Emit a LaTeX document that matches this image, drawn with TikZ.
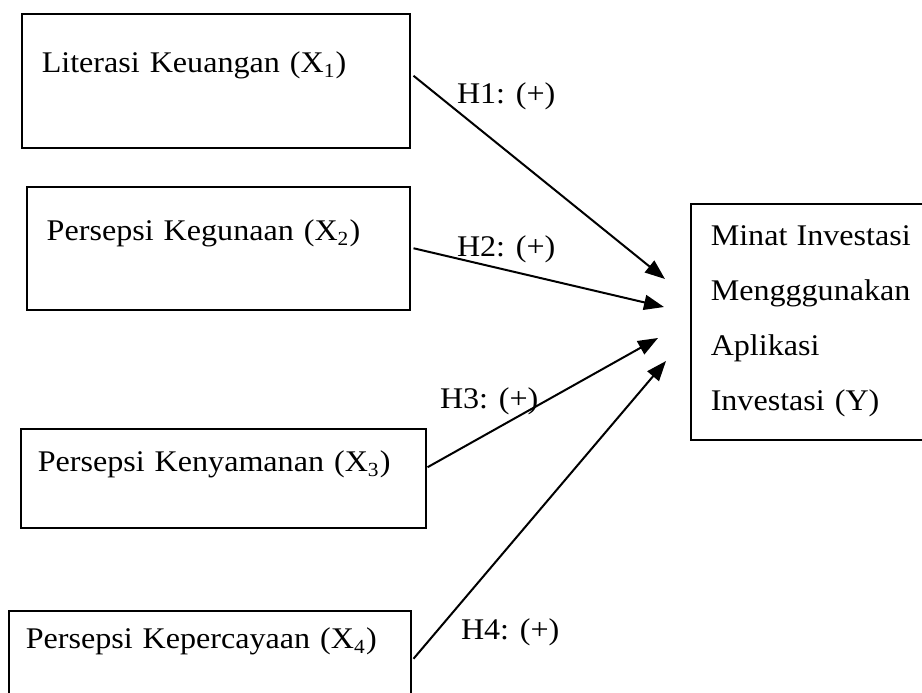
\documentclass[tikz,border=0pt,12pt]{standalone}
\usepackage{fontspec}
\setmainfont{Liberation Serif}[FakeStretch=1.07]
\usetikzlibrary{arrows.meta}

\begin{document}
\begin{tikzpicture}[x=0.4pt,y=-0.4pt,->,>={Triangle[length=8pt,width=6pt]},
                    line width=0.8pt,
                    var/.style={draw,-,line width=0.6pt,anchor=north west,
                                inner ysep=0pt,inner xsep=8pt,align=left},
                    hyp/.style={anchor=base west,inner sep=0pt}]
  \useasboundingbox (0,0) rectangle (922,693);

  \node[var,text width=139.2pt,text height=23.6pt,text depth=30pt]
        (lit) at (21,13)   {Literasi Keuangan (X\textsubscript{1})};
  \node[var,text width=137.2pt,text height=21.6pt,text depth=27.6pt]
        (guna) at (26,186) {Persepsi Kegunaan (X\textsubscript{2})};
  \node[var,inner xsep=6.8pt,text width=148.4pt,text height=17.2pt,text depth=22.4pt]
        (nyaman) at (20,428) {Persepsi Kenyamanan (X\textsubscript{3})};
  \node[var,inner xsep=6.8pt,text width=147.2pt,text height=15.2pt,text depth=20pt]
        (percaya) at (8,610) {Persepsi Kepercayaan (X\textsubscript{4})};

  \node[var,text width=80pt,minimum height=94.4pt,font=\fontsize{12}{22}\selectfont]
        (minat) at (690,203) {Minat\hfill Investasi\\Mengggunakan\\Aplikasi\\Investasi (Y)};

%  free ends of the arrows, just left of (minat)
  \coordinate (t1) at (665,279);
  \coordinate (t2) at (664,307);
  \coordinate (t3) at (658,338);
  \coordinate (t4) at (666,361);

  \draw ([shift={(3,-5)}]lit.east) -- (t1);
  \draw ([xshift=1.2pt]guna.east) -- (t2);
  \draw ([shift={(1,-11)}]nyaman.east) -- (t3);
  \draw ([shift={(2,4)}]percaya.east) -- (t4);

  \node[hyp] (h1) at (456,103) {H1: (+)};
  \node[hyp] (h2) at (456,256) {H2: (+)};
  \node[hyp] (h3) at (439,408) {H3: (+)};
  \node[hyp] (h4) at (460,639) {H4: (+)};

\end{tikzpicture}
\end{document}
